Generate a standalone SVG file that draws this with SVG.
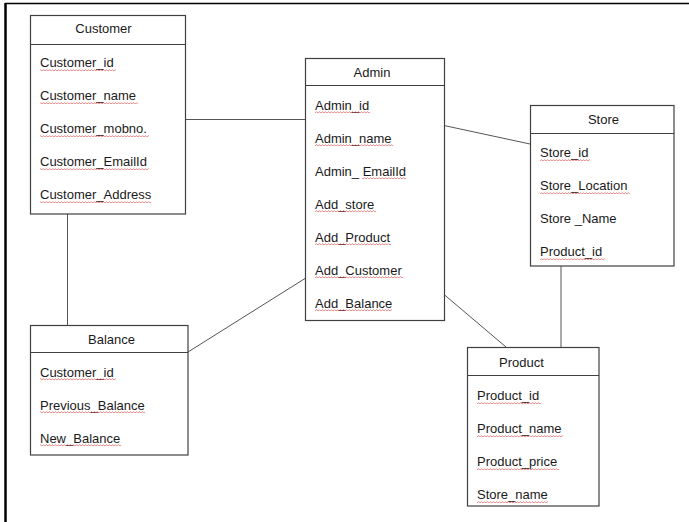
<svg xmlns="http://www.w3.org/2000/svg" width="689" height="522" viewBox="0 0 689 522">
<style>
.box{fill:#fff;stroke:#404040;stroke-width:1.2}
.sep{stroke:#404040;stroke-width:1.2}
.t{font-family:"Liberation Sans",Arial,sans-serif;font-size:13px;fill:#1a1a1a}
.h{font-family:"Liberation Sans",Arial,sans-serif;font-size:13px;fill:#1a1a1a;text-anchor:middle}
.w{fill:url(#wavy)}
#connectors line{stroke:#555;stroke-width:1}
</style>
<defs>
<pattern id="wavy" width="3" height="3" patternUnits="userSpaceOnUse">
<path d="M0,2.2 L1.5,0.6 L3,2.2" fill="none" stroke="#e05050" stroke-width="0.7"/>
</pattern>
</defs>
<rect width="689" height="522" fill="#fff"/>
<line x1="5" y1="3.5" x2="689" y2="3.5" stroke="#000" stroke-width="1.5"/>
<line x1="5.5" y1="3" x2="5.5" y2="522" stroke="#000" stroke-width="2.5"/>
<g id="connectors">
<line x1="185" y1="119.5" x2="305" y2="119.5"/>
<line x1="67.5" y1="214" x2="67.5" y2="325"/>
<line x1="444" y1="125.5" x2="530" y2="144"/>
<line x1="305" y1="278.5" x2="188" y2="352"/>
<line x1="444" y1="294.5" x2="506" y2="347"/>
<line x1="561" y1="266" x2="561" y2="347"/>
</g>
<g id="customer">
<rect class="box" x="30.5" y="15.5" width="155" height="198.5"/>
<line class="sep" x1="30.5" y1="44.5" x2="185.5" y2="44.5"/>
<text class="h" x="103.5" y="33">Customer</text>
<text class="t" x="40" y="67">Customer_id</text>
<rect class="w" x="40" y="68" width="76" height="3"/>
<text class="t" x="40" y="100">Customer_name</text>
<rect class="w" x="40" y="101" width="98" height="3"/>
<text class="t" x="40" y="133">Customer_mobno.</text>
<rect class="w" x="40" y="134" width="109" height="3"/>
<text class="t" x="40" y="166">Customer_EmailId</text>
<rect class="w" x="40" y="167" width="109" height="3"/>
<text class="t" x="40" y="199">Customer_Address</text>
<rect class="w" x="40" y="200" width="111" height="3"/>
</g>
<g id="admin">
<rect class="box" x="305.5" y="58.5" width="139" height="262"/>
<line class="sep" x1="305.5" y1="85.5" x2="444.5" y2="85.5"/>
<text class="h" x="372" y="77">Admin</text>
<text class="t" x="315" y="110">Admin_id</text>
<rect class="w" x="315" y="111" width="55" height="3"/>
<text class="t" x="315" y="143">Admin_name</text>
<rect class="w" x="315" y="144" width="78" height="3"/>
<text class="t" x="315" y="176">Admin_ EmailId</text>
<rect class="w" x="362" y="177" width="44" height="3"/>
<text class="t" x="315" y="209">Add_store</text>
<rect class="w" x="315" y="210" width="61" height="3"/>
<text class="t" x="315" y="242">Add_Product</text>
<rect class="w" x="315" y="243" width="76" height="3"/>
<text class="t" x="315" y="275">Add_Customer</text>
<rect class="w" x="315" y="276" width="88" height="3"/>
<text class="t" x="315" y="308">Add_Balance</text>
<rect class="w" x="315" y="309" width="77" height="3"/>
</g>
<g id="store">
<rect class="box" x="530.5" y="105.5" width="143.5" height="160.5"/>
<line class="sep" x1="530.5" y1="133.5" x2="674" y2="133.5"/>
<text class="h" x="603.5" y="124">Store</text>
<text class="t" x="540" y="157">Store_id</text>
<rect class="w" x="540" y="158" width="50" height="3"/>
<text class="t" x="540" y="190">Store_Location</text>
<rect class="w" x="540" y="191" width="90" height="3"/>
<text class="t" x="540" y="223">Store _Name</text>
<text class="t" x="540" y="256">Product_id</text>
<rect class="w" x="540" y="257" width="65" height="3"/>
</g>
<g id="balance">
<rect class="box" x="30.5" y="325.5" width="157.5" height="129.5"/>
<line class="sep" x1="30.5" y1="352.5" x2="188" y2="352.5"/>
<text class="h" x="111.5" y="344">Balance</text>
<text class="t" x="40" y="377">Customer_id</text>
<rect class="w" x="40" y="378" width="76" height="3"/>
<text class="t" x="40" y="410">Previous_Balance</text>
<rect class="w" x="40" y="411" width="105" height="3"/>
<text class="t" x="40" y="443">New_Balance</text>
<rect class="w" x="40" y="444" width="81" height="3"/>
</g>
<g id="product">
<rect class="box" x="467.5" y="347.5" width="131.5" height="158.5"/>
<line class="sep" x1="467.5" y1="375.5" x2="599" y2="375.5"/>
<text class="h" x="521.5" y="367">Product</text>
<text class="t" x="477" y="400">Product_id</text>
<rect class="w" x="477" y="401" width="64" height="3"/>
<text class="t" x="477" y="433">Product_name</text>
<rect class="w" x="477" y="434" width="86" height="3"/>
<text class="t" x="477" y="466">Product_price</text>
<rect class="w" x="477" y="467" width="82" height="3"/>
<text class="t" x="477" y="499">Store_name</text>
<rect class="w" x="477" y="500" width="71" height="3"/>
</g>
</svg>
